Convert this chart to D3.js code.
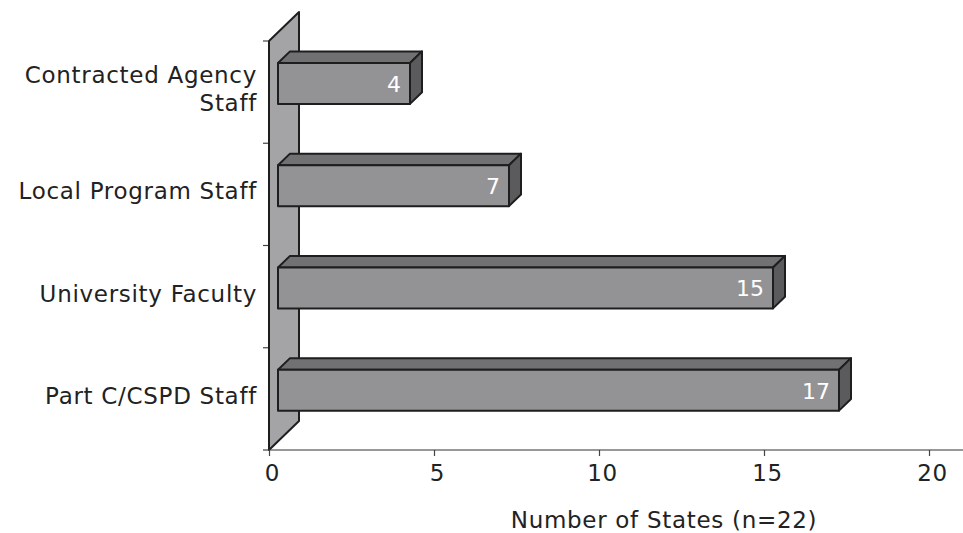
<!DOCTYPE html>
<html>
<head>
<meta charset="utf-8">
<script src="https://cdn.jsdelivr.net/npm/d3@7/dist/d3.min.js"></script>
<style>
  html, body { margin: 0; padding: 0; background: #fff; }
  svg { display: block; }
  text { font-family: "DejaVu Sans", Verdana, sans-serif; }
</style>
</head>
<body>
<svg id="chart" width="963" height="533"></svg>
<script>
// Staff groups providing training, top to bottom
const categories = [
  ["Contracted Agency", "Staff"],
  ["Local Program Staff"],
  ["University Faculty"],
  ["Part C/CSPD Staff"]
];
const values = [4, 7, 15, 17];
const xTicks = [0, 5, 10, 15, 20];
const xTitle = "Number of States (n=22)";

const svg = d3.select("#chart");
const W = 963;
const FS = 23;
const LS = "0.7px";

const x = d3.scaleLinear().domain([0, 20]).range([269, 929]);
const y = d3.scaleBand().domain(d3.range(categories.length)).range([41, 450]);

// 3D depth of the plot box and the slab each bar occupies inside it
const depth = { dx: 30, dy: -29 };
const f1 = 0.3, f2 = 0.7;
const off = f => [depth.dx * f, depth.dy * f];

const stroke = "#1e1e1e";

// side wall
const y0 = y.range()[0], y1 = y.range()[1], x0 = x(0);
svg.append("polygon")
  .attr("points", [
    [x0, y1], [x0, y0], [x0 + depth.dx, y0 + depth.dy], [x0 + depth.dx, y1 + depth.dy]
  ].map(p => p.join(",")).join(" "))
  .attr("fill", "#a4a4a7")
  .attr("stroke", stroke)
  .attr("stroke-width", 2)
  .attr("stroke-linejoin", "round");

// category ticks on the left edge
const bandEdges = d3.range(categories.length + 1).map(i => y0 + i * y.step());
svg.selectAll("line.ytick").data(bandEdges).join("line")
  .attr("x1", x0 - 6).attr("x2", x0)
  .attr("y1", d => d).attr("y2", d => d)
  .attr("stroke", "#444").attr("stroke-width", 1.2);

// bars
const barH = y.bandwidth() * 0.4;
const [fx, fy] = off(f1);
const [bx, by] = off(f2);
const bars = svg.append("g");
values.forEach((v, i) => {
  const cy = y(i) + y.bandwidth() / 2;
  const L = x(0) + fx, R = x(v) + fx;
  const T = cy - barH / 2 + fy, B = cy + barH / 2 + fy;
  const ddx = bx - fx, ddy = by - fy;
  const g = bars.append("g")
    .attr("stroke", stroke).attr("stroke-width", 2).attr("stroke-linejoin", "round");
  // top face
  g.append("polygon")
    .attr("points", [[L, T], [L + ddx, T + ddy], [R + ddx, T + ddy], [R, T]].map(p => p.join(",")).join(" "))
    .attr("fill", "#717174");
  // right face
  g.append("polygon")
    .attr("points", [[R, T], [R + ddx, T + ddy], [R + ddx, B + ddy], [R, B]].map(p => p.join(",")).join(" "))
    .attr("fill", "#5b5b5e");
  // front face
  g.append("rect")
    .attr("x", L).attr("y", T).attr("width", R - L).attr("height", B - T)
    .attr("fill", "#939396");
  // value label
  bars.append("text")
    .attr("x", R - 9).attr("y", (T + B) / 2 + 1)
    .attr("text-anchor", "end").attr("dominant-baseline", "central")
    .attr("font-size", 22).attr("fill", "#ffffff")
    .text(v);
});

// left axis line
svg.append("line")
  .attr("x1", x0).attr("x2", x0).attr("y1", y0).attr("y2", y1)
  .attr("stroke", stroke).attr("stroke-width", 2);

// x axis
const xAxis = d3.axisBottom(x).tickValues(xTicks).tickSize(6).tickPadding(9).tickSizeOuter(0);
const gx = svg.append("g").attr("transform", `translate(0,${y1})`).call(xAxis);
gx.select(".domain").remove();
gx.append("line").attr("x1", x0).attr("x2", W).attr("y1", 0).attr("y2", 0)
  .attr("stroke", "#333").attr("stroke-width", 1.2);
gx.selectAll(".tick line").attr("stroke", "#444").attr("stroke-width", 1.2);
gx.selectAll(".tick text")
  .attr("font-family", "DejaVu Sans, Verdana, sans-serif")
  .attr("font-size", FS).attr("fill", "#222").attr("dx", 3)
  .style("letter-spacing", LS);

// x axis title
svg.append("text")
  .attr("x", 664).attr("y", 528)
  .attr("text-anchor", "middle").attr("font-size", FS).attr("fill", "#222")
  .style("letter-spacing", LS)
  .text(xTitle);

// category labels
categories.forEach((lines, i) => {
  const cy = y(i) + y.bandwidth() / 2 - 3;
  const lh = 28;
  const t = svg.append("text")
    .attr("text-anchor", "end").attr("font-size", FS).attr("fill", "#222")
    .style("letter-spacing", LS);
  lines.forEach((ln, k) => {
    t.append("tspan")
      .attr("x", 257)
      .attr("y", cy + (k - (lines.length - 1) / 2) * lh)
      .attr("dominant-baseline", "central")
      .text(ln);
  });
});
</script>
</body>
</html>
